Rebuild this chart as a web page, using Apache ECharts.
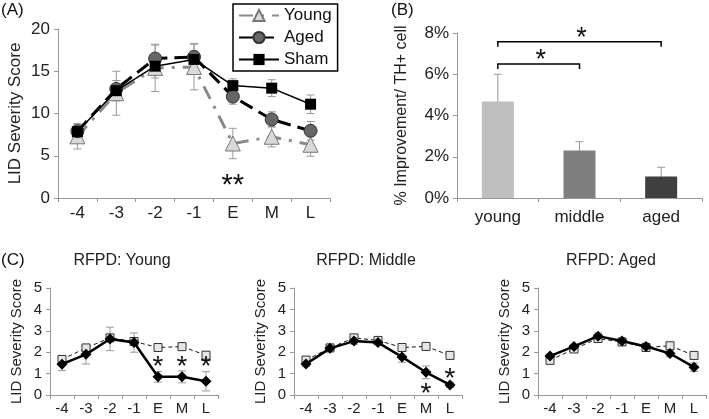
<!DOCTYPE html>
<html>
<head>
<meta charset="utf-8">
<script src="https://cdn.jsdelivr.net/npm/echarts@6/dist/echarts.min.js"></script>
<style>
  html, body { margin: 0; padding: 0; background: #fff; }
  #chart { width: 709px; height: 419px; }
</style>
</head>
<body>
<div id="chart"></div>
<script>
// time points shared by panels A and C
const timeCats = ['-4', '-3', '-2', '-1', 'E', 'M', 'L']

// panel A: LID severity by group
const youngA = [7.3, 12.4, 15.4, 15.5, 6.45, 7.25, 6.3]
const youngAErr = [1.5, 2.6, 2.8, 2.7, 1.8, 1.2, 1.35]
const agedA = [7.9, 12.9, 16.5, 16.7, 12.0, 9.3, 7.95]
const agedAErr = [0.9, 1.0, 1.6, 1.6, 0.9, 0.9, 1.1]
const shamA = [7.85, 12.7, 15.6, 16.4, 13.3, 13.0, 11.1]
const shamAErr = [0.8, 1.2, 1.4, 1.0, 0.8, 1.0, 1.1]
const aStars = [[4, 2.1]]

// panel B: % improvement per TH+ cell
const bCats = ['young', 'middle', 'aged']
const bVals = [4.68, 2.3, 1.04]
const bErr = [1.32, 0.43, 0.45]
const bBrackets = [[0, 1, 6.5], [0, 2, 7.57]]

// panel C: RFPD vs sham, per age
const c1Rfpd = [1.44, 1.9, 2.62, 2.45, 0.85, 0.85, 0.64]
const c1RfpdErr = [0.3, 0.45, 0.55, 0.45, 0.25, 0.28, 0.45]
const c1Sham = [1.66, 2.2, 2.67, 2.5, 2.22, 2.26, 1.86]
const c1ShamErr = [0.08, 0.15, 0.1, 0.1, 0.06, 0.1, 0.12]
const c1Stars = [[4, 1.55], [5, 1.55], [6, 1.55]]

const c2Rfpd = [1.45, 2.18, 2.52, 2.45, 1.78, 1.06, 0.47]
const c2RfpdErr = [0.12, 0.1, 0.15, 0.1, 0.25, 0.3, 0.12]
const c2Sham = [1.63, 2.2, 2.67, 2.55, 2.22, 2.27, 1.85]
const c2ShamErr = [0.08, 0.1, 0.1, 0.1, 0.08, 0.12, 0.1]
const c2Stars = [[5, 0.33], [6, 1.02]]

const c3Rfpd = [1.82, 2.27, 2.75, 2.52, 2.27, 1.94, 1.3]
const c3RfpdErr = [0.1, 0.1, 0.15, 0.1, 0.15, 0.15, 0.2]
const c3Sham = [1.62, 2.15, 2.64, 2.48, 2.22, 2.3, 1.85]
const c3ShamErr = [0.08, 0.08, 0.1, 0.1, 0.1, 0.1, 0.15]

const FONT = 'Liberation Sans, Arial, sans-serif'
const AXIS_GRAY = '#999'

function errData(vals, errs) {
  return vals.map((v, i) => [i, v - errs[i], v + errs[i]])
}

function errRender(params, api) {
  const lo = api.coord([api.value(0), api.value(1)])
  const hi = api.coord([api.value(0), api.value(2)])
  const w = 4
  const st = { stroke: '#999', lineWidth: 1 }
  return {
    type: 'group',
    children: [
      { type: 'line', shape: { x1: lo[0], y1: lo[1], x2: hi[0], y2: hi[1] }, style: st },
      { type: 'line', shape: { x1: lo[0] - w, y1: lo[1], x2: lo[0] + w, y2: lo[1] }, style: st },
      { type: 'line', shape: { x1: hi[0] - w, y1: hi[1], x2: hi[0] + w, y2: hi[1] }, style: st }
    ]
  }
}

function errSeries(idx, vals, errs) {
  return {
    type: 'custom', xAxisIndex: idx, yAxisIndex: idx, z: 1, silent: true,
    renderItem: errRender, data: errData(vals, errs)
  }
}

// asterisk glyph sits above the middle of the em box, so push the text down a bit
function starSeries(idx, data, text, size) {
  return {
    type: 'custom', xAxisIndex: idx, yAxisIndex: idx, z: 5, silent: true,
    data: data,
    renderItem(params, api) {
      const p = api.coord([api.value(0), api.value(1)])
      return {
        type: 'text',
        style: {
          x: p[0], y: p[1] + size * 0.21, text: text,
          font: size + 'px ' + FONT, fill: '#111',
          align: 'center', verticalAlign: 'middle'
        }
      }
    }
  }
}

function catAxis(idx, data, fontSize, margin) {
  return {
    type: 'category', gridIndex: idx, data: data,
    axisLine: { lineStyle: { color: AXIS_GRAY } },
    axisTick: { show: true, length: 4, lineStyle: { color: AXIS_GRAY } },
    axisLabel: { color: '#222', fontSize: fontSize, fontFamily: FONT, margin: margin }
  }
}

function valAxis(idx, max, interval, fontSize, name, nameGap, nameSize, fmt) {
  return {
    type: 'value', gridIndex: idx, min: 0, max: max, interval: interval,
    name: name, nameLocation: 'middle', nameGap: nameGap,
    nameTextStyle: { color: '#222', fontSize: nameSize, fontFamily: FONT },
    splitLine: { show: false },
    axisLine: { show: true, lineStyle: { color: AXIS_GRAY } },
    axisTick: { show: true, length: 4, lineStyle: { color: AXIS_GRAY } },
    axisLabel: { color: '#222', fontSize: fontSize, fontFamily: FONT, margin: 8, formatter: fmt || '{value}' }
  }
}

function cLines(idx, rfpd, sham) {
  return [
    {
      type: 'line', name: 'Sham C' + idx, xAxisIndex: idx, yAxisIndex: idx, data: sham, z: 2,
      symbol: 'rect', symbolSize: 8,
      lineStyle: { color: '#111', width: 1, type: [4, 3] },
      itemStyle: { color: '#e6e6e6', borderColor: '#333', borderWidth: 1 }
    },
    {
      type: 'line', name: 'RFPD C' + idx, xAxisIndex: idx, yAxisIndex: idx, data: rfpd, z: 3,
      symbol: 'diamond', symbolSize: 11,
      lineStyle: { color: '#000', width: 2.5 },
      itemStyle: { color: '#000' }
    }
  ]
}

const chart = echarts.init(document.getElementById('chart'))

const titleStyle = { color: '#111', fontSize: 17, fontWeight: 'normal', fontFamily: FONT }
const subStyle = { color: '#222', fontSize: 16, fontWeight: 'normal', fontFamily: FONT }

chart.setOption({
  animation: false,
  textStyle: { fontFamily: FONT },
  title: [
    { text: '(A)', left: 1, top: 2, padding: 0, textStyle: titleStyle },
    { text: '(B)', left: 391, top: 2, padding: 0, textStyle: titleStyle },
    { text: '(C)', left: 1, top: 252, padding: 0, textStyle: titleStyle },
    { text: 'RFPD: Young', left: 122, top: 253, padding: 0, textAlign: 'center', textStyle: subStyle },
    { text: 'RFPD: Middle', left: 366, top: 253, padding: 0, textAlign: 'center', textStyle: subStyle },
    { text: 'RFPD: Aged', left: 611, top: 253, padding: 0, textAlign: 'center', textStyle: subStyle }
  ],
  legend: {
    data: ['Young', 'Aged', 'Sham'],
    orient: 'vertical', left: 233, top: 4,
    borderColor: '#000', borderWidth: 1.5, padding: [3, 6, 3, 5],
    itemGap: 5, itemWidth: 40, itemHeight: 14,
    textStyle: { color: '#111', fontSize: 17, fontFamily: FONT }
  },
  grid: [
    { left: 58, top: 29, width: 272, height: 169 },
    { left: 457, top: 33, width: 245, height: 165 },
    { left: 50, top: 288, width: 168, height: 107 },
    { left: 294, top: 288, width: 168, height: 107 },
    { left: 538, top: 288, width: 168, height: 107 }
  ],
  xAxis: [
    catAxis(0, timeCats, 17, 7),
    catAxis(1, bCats, 17, 11),
    catAxis(2, timeCats, 15, 6),
    catAxis(3, timeCats, 15, 6),
    catAxis(4, timeCats, 15, 6)
  ],
  yAxis: [
    valAxis(0, 20, 5, 17, 'LID Severity Score', 34, 17),
    valAxis(1, 8, 2, 17, '% Improvement/ TH+ cell', 47, 16, '{value}%'),
    valAxis(2, 5, 1, 15, 'LID Severity Score', 26, 15),
    valAxis(3, 5, 1, 15, 'LID Severity Score', 26, 15),
    valAxis(4, 5, 1, 15, 'LID Severity Score', 26, 15)
  ],
  series: [
    errSeries(0, youngA, youngAErr),
    errSeries(0, agedA, agedAErr),
    errSeries(0, shamA, shamAErr),
    {
      type: 'line', name: 'Young', xAxisIndex: 0, yAxisIndex: 0, data: youngA, z: 2,
      symbol: 'triangle', symbolSize: 15,
      lineStyle: { color: '#8a8a8a', width: 3, type: [14, 8, 3, 8] },
      itemStyle: { color: '#d9d9d9', borderColor: '#777', borderWidth: 1 }
    },
    {
      type: 'line', name: 'Aged', xAxisIndex: 0, yAxisIndex: 0, data: agedA, z: 3,
      symbol: 'circle', symbolSize: 13,
      lineStyle: { color: '#000', width: 3, type: [14, 7] },
      itemStyle: { color: '#666', borderColor: '#333', borderWidth: 1 }
    },
    {
      type: 'line', name: 'Sham', xAxisIndex: 0, yAxisIndex: 0, data: shamA, z: 4,
      symbol: 'rect', symbolSize: 11,
      lineStyle: { color: '#000', width: 1.5 },
      itemStyle: { color: '#000' }
    },
    starSeries(0, aStars, '**', 29),

    {
      type: 'bar', xAxisIndex: 1, yAxisIndex: 1, barWidth: 32, z: 2,
      data: bVals.map((v, i) => ({
        value: v,
        itemStyle: { color: ['#bfbfbf', '#7f7f7f', '#3f3f3f'][i] }
      }))
    },
    errSeries(1, bVals, bErr),
    {
      type: 'custom', xAxisIndex: 1, yAxisIndex: 1, z: 5, silent: true,
      data: bBrackets,
      renderItem(params, api) {
        const p1 = api.coord([api.value(0), api.value(2)])
        const p2 = api.coord([api.value(1), api.value(2)])
        const drop = 5
        return {
          type: 'group',
          children: [
            {
              type: 'polyline',
              shape: { points: [[p1[0], p1[1] + drop], [p1[0], p1[1]], [p2[0], p2[1]], [p2[0], p2[1] + drop]] },
              style: { stroke: '#000', lineWidth: 1.5, fill: null }
            },
            {
              type: 'text',
              style: {
                x: (p1[0] + p2[0]) / 2 + 2, y: p1[1] - 9 + 27 * 0.21, text: '*',
                font: '27px ' + FONT, fill: '#111', align: 'center', verticalAlign: 'middle'
              }
            }
          ]
        }
      }
    },

    errSeries(2, c1Rfpd, c1RfpdErr),
    errSeries(2, c1Sham, c1ShamErr),
    ...cLines(2, c1Rfpd, c1Sham),
    starSeries(2, c1Stars, '*', 28),

    errSeries(3, c2Rfpd, c2RfpdErr),
    errSeries(3, c2Sham, c2ShamErr),
    ...cLines(3, c2Rfpd, c2Sham),
    starSeries(3, c2Stars, '*', 28),

    errSeries(4, c3Rfpd, c3RfpdErr),
    errSeries(4, c3Sham, c3ShamErr),
    ...cLines(4, c3Rfpd, c3Sham)
  ]
})
</script>
</body>
</html>
